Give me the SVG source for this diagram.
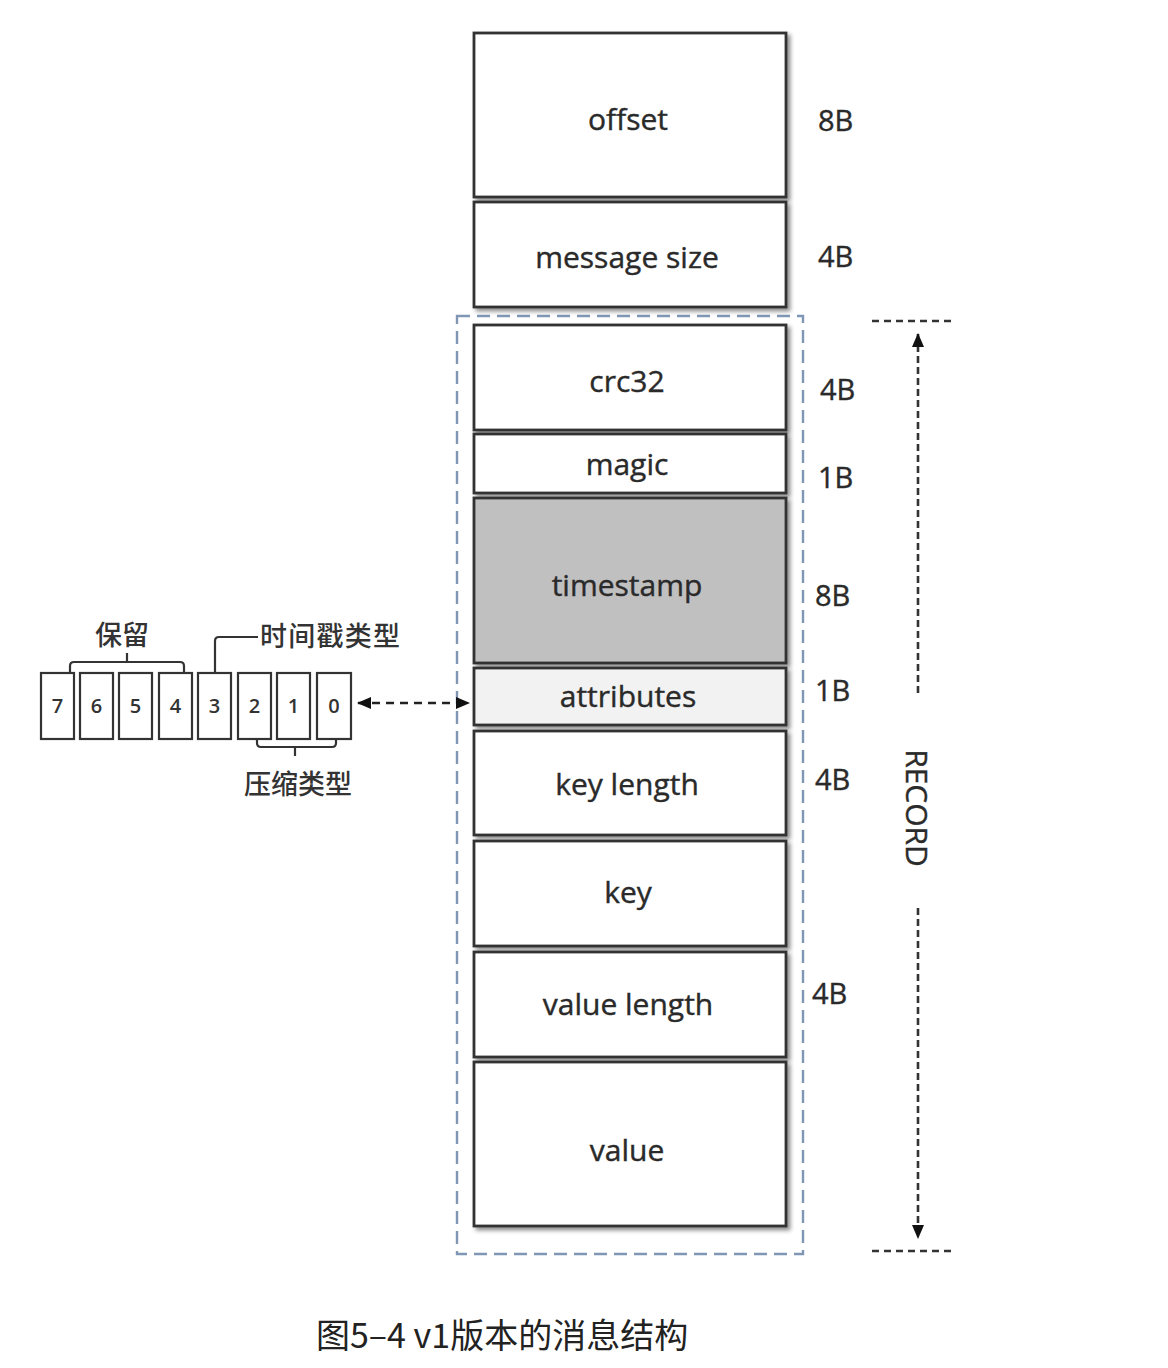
<svg xmlns="http://www.w3.org/2000/svg" width="1168" height="1368" viewBox="0 0 1168 1368">
<defs>
  <filter id="sh" x="-10%" y="-10%" width="130%" height="130%">
    <feDropShadow dx="3" dy="3" stdDeviation="2" flood-color="#000" flood-opacity="0.45"/>
  </filter>
  <marker id="ah" viewBox="0 0 14 12" refX="13" refY="6" markerWidth="14" markerHeight="12" markerUnits="userSpaceOnUse" orient="auto-start-reverse">
    <path d="M0,0 L14,6 L0,12 Z" fill="#111"/>
  </marker>
</defs>
<style>
  .box{stroke:#333;stroke-width:2.8;filter:url(#sh)}
  .lbl{font-family:"Open Sans","Liberation Sans",sans-serif;font-size:30px;fill:#2a2a2a;stroke:#2a2a2a;stroke-width:0.4;text-anchor:middle}
  .sz{font-family:"Open Sans","Liberation Sans",sans-serif;font-size:29px;fill:#2a2a2a;stroke:#2a2a2a;stroke-width:0.4}
  .bit{fill:#fff;stroke:#333;stroke-width:2.2}
  .bt{font-family:"Open Sans","Liberation Sans",sans-serif;font-size:20px;font-weight:600;fill:#333;text-anchor:middle}
  .cj{font-family:"Noto Sans CJK SC","Noto Sans",sans-serif;font-size:27px;font-weight:500;fill:#333}
  .br{fill:none;stroke:#333;stroke-width:2.2}
  .dl{fill:none;stroke:#333;stroke-width:2.5;stroke-dasharray:7 5}
</style>
<rect width="1168" height="1368" fill="#fff"/>

<g id="record-frame">
  <rect x="457" y="316" width="346" height="938" fill="none" stroke="#7f96b5" stroke-width="2.4" stroke-dasharray="13 7"/>
</g>

<g id="offset"><rect class="box" x="474" y="33" width="312" height="164" fill="#fff"/><text class="lbl" x="628" y="130">offset</text><text class="sz" x="818" y="131">8B</text></g>
<g id="message-size"><rect class="box" x="474" y="202" width="312" height="105" fill="#fff"/><text class="lbl" x="627" y="268">message size</text><text class="sz" x="818" y="267">4B</text></g>
<g id="crc32"><rect class="box" x="474" y="325" width="312" height="105" fill="#fff"/><text class="lbl" x="627" y="392">crc32</text><text class="sz" x="820" y="400">4B</text></g>
<g id="magic"><rect class="box" x="474" y="434" width="312" height="59" fill="#fff"/><text class="lbl" x="627" y="475">magic</text><text class="sz" x="818" y="488">1B</text></g>
<g id="timestamp"><rect class="box" x="474" y="498" width="312" height="165" fill="#c0c0c0"/><text class="lbl" x="627" y="596">timestamp</text><text class="sz" x="815" y="606">8B</text></g>
<g id="attributes"><rect class="box" x="474" y="668" width="312" height="57" fill="#f2f2f2"/><text class="lbl" x="628" y="707">attributes</text><text class="sz" x="815" y="701">1B</text></g>
<g id="key-length"><rect class="box" x="474" y="731" width="312" height="104" fill="#fff"/><text class="lbl" x="627" y="795">key length</text><text class="sz" x="815" y="790">4B</text></g>
<g id="key"><rect class="box" x="474" y="841" width="312" height="105" fill="#fff"/><text class="lbl" x="628" y="903">key</text></g>
<g id="value-length"><rect class="box" x="474" y="952" width="312" height="105" fill="#fff"/><text class="lbl" x="628" y="1015">value length</text><text class="sz" x="812" y="1004">4B</text></g>
<g id="value"><rect class="box" x="474" y="1062" width="312" height="164" fill="#fff"/><text class="lbl" x="627" y="1161">value</text></g>

<g id="record-span">
  <line class="dl" x1="872" y1="321" x2="956" y2="321"/>
  <line class="dl" x1="872" y1="1251" x2="956" y2="1251"/>
  <text class="lbl" transform="translate(906,808) rotate(90)">RECORD</text>
</g>

<g id="bits">
  <rect class="bit" x="41" y="673" width="33" height="66"/><text class="bt" x="57.5" y="713">7</text>
  <rect class="bit" x="80" y="673" width="33" height="66"/><text class="bt" x="96.5" y="713">6</text>
  <rect class="bit" x="119" y="673" width="33" height="66"/><text class="bt" x="135.5" y="713">5</text>
  <rect class="bit" x="159" y="673" width="33" height="66"/><text class="bt" x="175.5" y="713">4</text>
  <rect class="bit" x="198" y="673" width="33" height="66"/><text class="bt" x="214.5" y="713">3</text>
  <rect class="bit" x="238" y="673" width="33" height="66"/><text class="bt" x="254.5" y="713">2</text>
  <rect class="bit" x="277" y="673" width="33" height="66"/><text class="bt" x="293.5" y="713">1</text>
  <rect class="bit" x="317" y="673" width="34" height="66"/><text class="bt" x="334" y="713">0</text>
</g>

<g id="reserved-label">
  <path class="br" d="M70,672 V666 Q70,662 74,662 H180 Q184,662 184,666 V672 M127,662 V653"/>
  <text class="cj" x="122" y="645" text-anchor="middle">保留</text>
</g>
<g id="timestamp-type-label">
  <path class="br" d="M215,673 V641 Q215,637 219,637 H258"/>
  <text class="cj" x="260" y="646" textLength="140">时间戳类型</text>
</g>
<g id="compression-label">
  <path class="br" d="M257,740 V743 Q257,747 261,747 H332 Q336,747 336,743 V740 M295,747 V756"/>
  <text class="cj" x="298" y="794" text-anchor="middle">压缩类型</text>
</g>

<g id="connectors">
  <line x1="358" y1="703" x2="469" y2="703" stroke="#222" stroke-width="2.5" stroke-dasharray="8 6" marker-start="url(#ah)" marker-end="url(#ah)"/>
  <line x1="918" y1="334" x2="918" y2="697" stroke="#333" stroke-width="2.6" stroke-dasharray="7 4" marker-start="url(#ah)"/>
  <line x1="918" y1="908" x2="918" y2="1238" stroke="#333" stroke-width="2.6" stroke-dasharray="7 4" marker-end="url(#ah)"/>
</g>

<text x="316" y="1348" font-family="'Noto Sans CJK SC','Noto Sans',sans-serif" font-size="34" fill="#222">图5–4 v1版本的消息结构</text>
</svg>
